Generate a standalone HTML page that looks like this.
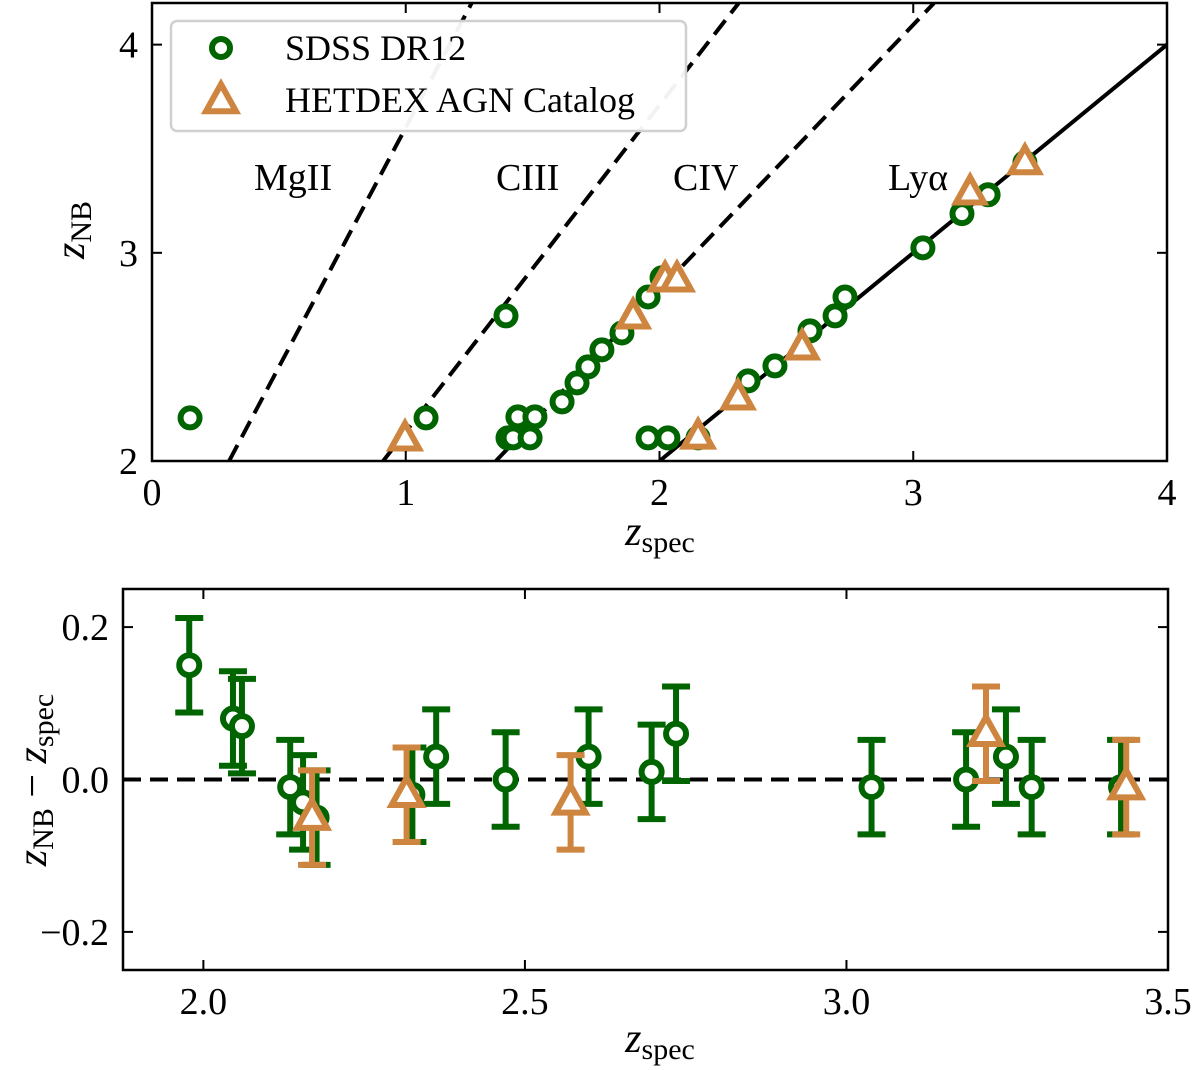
<!DOCTYPE html>
<html><head><meta charset="utf-8"><style>
html,body{margin:0;padding:0;background:#fff;}
svg{display:block;font-family:"Liberation Serif","DejaVu Serif",serif;}
</style></head><body>
<svg id="chart" width="1200" height="1070" viewBox="0 0 1200 1070" xmlns="http://www.w3.org/2000/svg"></svg>
<script>
// ---- top panel data ----
const topSdssZspec = [0.150,1.080,1.395,1.403,1.423,1.490,1.442,1.509,1.616,1.675,1.718,1.773,1.852,1.955,2.010,1.955,2.033,2.152,2.349,2.455,2.593,2.692,2.731,3.038,3.192,3.295,3.440];
const topSdssZnb   = [2.207,2.207,2.697,2.111,2.111,2.111,2.212,2.212,2.284,2.375,2.452,2.534,2.615,2.788,2.880,2.111,2.111,2.111,2.385,2.457,2.625,2.697,2.788,3.024,3.188,3.279,3.433];
const topHetZspec = [0.997,1.896,2.022,2.069,2.152,2.309,2.562,3.224,3.440];
const topHetZnb   = [2.106,2.692,2.870,2.870,2.115,2.303,2.543,3.288,3.433];
const lineNames = ["MgII","CIII","CIV","Lyα"];
const lineWaves = [2798,1909,1549,1216];
const topXTicks = [0,1,2,3,4];
const topYTicks = [2,3,4];
// ---- bottom panel data ----
const botSdssZspec = [1.978,2.046,2.060,2.135,2.155,2.176,2.325,2.362,2.470,2.599,2.697,2.735,3.039,3.186,3.248,3.288,3.427];
const botSdssDz    = [0.15,0.08,0.07,-0.01,-0.03,-0.05,-0.02,0.03,0.00,0.03,0.01,0.06,-0.01,0.00,0.03,-0.01,-0.01];
const botSdssErr   = [0.062,0.062,0.062,0.062,0.062,0.062,0.062,0.062,0.062,0.062,0.062,0.062,0.062,0.062,0.062,0.062,0.062];
const botHetZspec = [2.169,2.316,2.571,3.217,3.435];
const botHetDz    = [-0.05,-0.02,-0.03,0.06,-0.01];
const botHetErr   = [0.062,0.062,0.062,0.062,0.062];
const botXTicks = [2.0,2.5,3.0,3.5];
const botYTicks = [0.2,0.0,-0.2];

const NS="http://www.w3.org/2000/svg";
const svg=document.getElementById('chart');
const G='#006400', O='#cd853f';
function mk(tag,attrs,parent){const e=document.createElementNS(NS,tag);for(const k in attrs)e.setAttribute(k,attrs[k]);(parent||svg).appendChild(e);return e;}

const T={x0:152,x1:1167,y0:3,y1:461,xmin:0,xmax:4,ymin:2,ymax:4.2};
const tx=v=>T.x0+(v-T.xmin)/(T.xmax-T.xmin)*(T.x1-T.x0);
const ty=v=>T.y1-(v-T.ymin)/(T.ymax-T.ymin)*(T.y1-T.y0);
const B={x0:123,x1:1168,y0:589,y1:970,xmin:1.875,xmax:3.5,ymin:-0.25,ymax:0.25};
const bx=v=>B.x0+(v-B.xmin)/(B.xmax-B.xmin)*(B.x1-B.x0);
const by=v=>B.y1-(v-B.ymin)/(B.ymax-B.ymin)*(B.y1-B.y0);

function circ(x,y,r,sw,parent){return mk('circle',{cx:x,cy:y,r:r,fill:'#fff',stroke:G,'stroke-width':sw},parent);}
function tri(x,y,s,sw,parent){const h=s*0.9;const p=`${x},${y-h*0.62} ${x-s/2},${y+h*0.38} ${x+s/2},${y+h*0.38}`;return mk('polygon',{points:p,fill:'#fff',stroke:O,'stroke-width':sw,'stroke-linejoin':'miter'},parent);}
const FS=38;

// ---- TOP PANEL ----
const topG=mk('g',{});


const clipT=mk('clipPath',{id:'clipT'});mk('rect',{x:T.x0,y:T.y0,width:T.x1-T.x0,height:T.y1-T.y0},clipT);
const linesG=mk('g',{'clip-path':'url(#clipT)'},topG);
lineWaves.forEach((w,i)=>{
  const r=w/1216;
  const zs0=(1+T.ymin)/r-1, zs1=(1+T.ymax)/r-1;
  const l=mk('line',{x1:tx(zs0),y1:ty(T.ymin),x2:tx(zs1),y2:ty(T.ymax),stroke:'#000','stroke-width':4},linesG);
  if(i<3)l.setAttribute('stroke-dasharray','18,9');
  
  
});
const ptsT=mk('g',{'clip-path':'url(#clipT)'},topG);
topSdssZspec.forEach((z,i)=>{const c=circ(tx(z),ty(topSdssZnb[i]),9.5,6,ptsT);
  
  });
topHetZspec.forEach((z,i)=>{const t=tri(tx(z),ty(topHetZnb[i]),28,6,ptsT);
  
  });
const labPos=[[254,190],[496,190],[673,190],[888,190]];
lineNames.forEach((n,i)=>{const t=mk('text',{x:labPos[i][0],y:labPos[i][1],'font-size':FS},topG);t.textContent=n;
  
  });
mk('rect',{x:T.x0,y:T.y0,width:T.x1-T.x0,height:T.y1-T.y0,fill:'none',stroke:'#000','stroke-width':2.5},topG);
topXTicks.forEach(v=>{const x=tx(v);
  mk('line',{x1:x,y1:T.y1,x2:x,y2:T.y1-10,stroke:'#000','stroke-width':2},topG);
  mk('line',{x1:x,y1:T.y0,x2:x,y2:T.y0+10,stroke:'#000','stroke-width':2},topG);
  const t=mk('text',{x:x,y:T.y1+44,'font-size':FS,'text-anchor':'middle'},topG);t.textContent=v;
  
  });
topYTicks.forEach(v=>{const y=ty(v);
  mk('line',{x1:T.x0,y1:y,x2:T.x0+10,y2:y,stroke:'#000','stroke-width':2},topG);
  mk('line',{x1:T.x1,y1:y,x2:T.x1-10,y2:y,stroke:'#000','stroke-width':2},topG);
  const t=mk('text',{x:T.x0-14,y:y+13,'font-size':FS,'text-anchor':'end'},topG);t.textContent=v;
  
  });
let xl=mk('text',{x:660,y:545,'font-size':42,'text-anchor':'middle'},topG);
xl.innerHTML='<tspan font-style="italic">z</tspan><tspan font-size="30" dy="7">spec</tspan>';


let yl=mk('text',{x:0,y:0,'font-size':42,'text-anchor':'middle',transform:'translate(84,230) rotate(-90)'},topG);
yl.innerHTML='<tspan font-style="italic">z</tspan><tspan font-size="30" dy="7">NB</tspan>';


const lg=mk('g',{},topG);


mk('rect',{x:171,y:21,width:515,height:110,rx:6,fill:'#fff','fill-opacity':0.95,stroke:'#d0d0d0','stroke-width':2.5},lg);
circ(221,48,9,6,lg);
tri(221,101,30,6,lg);
let l1=mk('text',{x:285,y:60,'font-size':36},lg);l1.textContent='SDSS DR12';


let l2=mk('text',{x:285,y:112,'font-size':36},lg);l2.textContent='HETDEX AGN Catalog';



// ---- BOTTOM PANEL ----
const botG=mk('g',{});


mk('line',{x1:B.x0,y1:by(0),x2:B.x1,y2:by(0),stroke:'#000','stroke-width':4,'stroke-dasharray':'18,9'},botG);
function errbar(x,y,e,col,parent){
  const g=mk('g',{},parent);
  mk('line',{x1:x,y1:by(y-e),x2:x,y2:by(y+e),stroke:col,'stroke-width':6},g);
  mk('line',{x1:x-14,y1:by(y-e),x2:x+14,y2:by(y-e),stroke:col,'stroke-width':6},g);
  mk('line',{x1:x-14,y1:by(y+e),x2:x+14,y2:by(y+e),stroke:col,'stroke-width':6},g);
  return g;}
botSdssZspec.forEach((z,i)=>{const g=errbar(bx(z),botSdssDz[i],botSdssErr[i],G,botG);
  
  
  circ(bx(z),by(botSdssDz[i]),10,6,g);});
botHetZspec.forEach((z,i)=>{const g=errbar(bx(z),botHetDz[i],botHetErr[i],O,botG);
  
  
  tri(bx(z),by(botHetDz[i]),30,6,g);});
mk('rect',{x:B.x0,y:B.y0,width:B.x1-B.x0,height:B.y1-B.y0,fill:'none',stroke:'#000','stroke-width':2.5},botG);
botXTicks.forEach(v=>{const x=bx(v);
  mk('line',{x1:x,y1:B.y1,x2:x,y2:B.y1-10,stroke:'#000','stroke-width':2},botG);
  mk('line',{x1:x,y1:B.y0,x2:x,y2:B.y0+10,stroke:'#000','stroke-width':2},botG);
  const t=mk('text',{x:x,y:B.y1+44,'font-size':FS,'text-anchor':'middle'},botG);t.textContent=v.toFixed(1);
  
  });
botYTicks.forEach(v=>{const y=by(v);
  mk('line',{x1:B.x0,y1:y,x2:B.x0+10,y2:y,stroke:'#000','stroke-width':2},botG);
  mk('line',{x1:B.x1,y1:y,x2:B.x1-10,y2:y,stroke:'#000','stroke-width':2},botG);
  const t=mk('text',{x:B.x0-14,y:y+13,'font-size':FS,'text-anchor':'end'},botG);t.textContent=(v<0?'−':'')+Math.abs(v).toFixed(1);
  
  });
let bxl=mk('text',{x:660,y:1052,'font-size':42,'text-anchor':'middle'},botG);
bxl.innerHTML='<tspan font-style="italic">z</tspan><tspan font-size="30" dy="7">spec</tspan>';


let byl=mk('text',{x:0,y:0,'font-size':42,'text-anchor':'middle',transform:'translate(46,780) rotate(-90)'},botG);
byl.innerHTML='<tspan font-style="italic">z</tspan><tspan font-size="30" dy="7">NB</tspan><tspan dy="-7"> − </tspan><tspan font-style="italic">z</tspan><tspan font-size="30" dy="7">spec</tspan>';


</script>
</body></html>
